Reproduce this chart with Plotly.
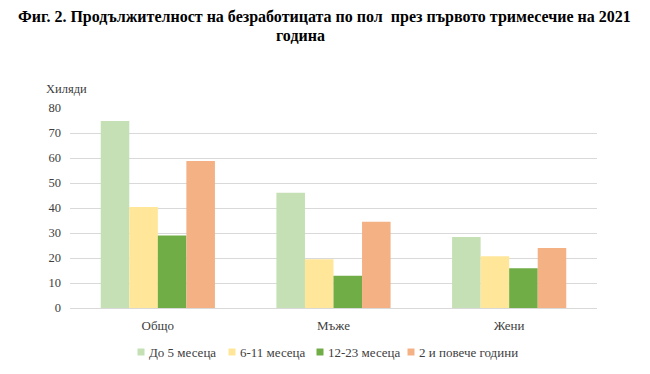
import plotly.graph_objects as go

categories = ["Общо", "Мъже", "Жени"]
series_names = ["До 5 месеца", "6-11 месеца", "12-23 месеца", "2 и повече години"]
do5 = [74.8, 46.1, 28.4]
m6_11 = [40.4, 19.5, 20.7]
m12_23 = [29.0, 12.9, 15.9]
y2plus = [58.8, 34.5, 24.0]
colors = ["#C5E0B4", "#FFE699", "#70AD47", "#F4B183"]
y_ticks = [0, 10, 20, 30, 40, 50, 60, 70, 80]

FONT = "Liberation Serif"
W, H = 650, 374
ML, MR, MT, MB = 70, 53, 108, 66
plot_h = H - MT - MB
plot_w = W - ML - MR

def py(p):
    return (H - MB - p) / plot_h

def px(p):
    return (p - ML) / plot_w

fig = go.Figure()
for name, vals, c in zip(series_names, [do5, m6_11, m12_23, y2plus], colors):
    fig.add_trace(go.Bar(x=categories, y=vals, name=name,
                         marker=dict(color=c, line=dict(width=0))))

fig.update_layout(
    width=W, height=H,
    paper_bgcolor="white", plot_bgcolor="white",
    margin=dict(l=ML, r=MR, t=MT, b=MB, autoexpand=False),
    barmode="group", bargap=0.35, bargroupgap=0,
    font=dict(family=FONT, size=12, color="#404040"),
    showlegend=False,
    xaxis=dict(showgrid=False, showline=True, linecolor="#D9D9D9", linewidth=1,
               ticks="", automargin=False, ticklabelstandoff=5,
               tickfont=dict(family=FONT, size=13, color="#404040")),
    yaxis=dict(range=[0, 80], tickvals=y_ticks, showgrid=True, gridcolor="#D9D9D9",
               gridwidth=1, zeroline=False, showline=False, ticks="", automargin=False,
               ticklabelstandoff=8,
               tickfont=dict(family=FONT, size=12.5, color="#404040")),
)

fig.add_annotation(text="<b>Фиг. 2. Продължителност на безработицата по пол  през първото тримесечие на 2021</b>",
                   xref="paper", yref="paper", x=px(324), y=py(17), xanchor="center", yanchor="middle",
                   showarrow=False, font=dict(family=FONT, size=16, color="black"))
fig.add_annotation(text="<b>година</b>", xref="paper", yref="paper",
                   x=px(300), y=py(36), xanchor="center", yanchor="middle",
                   showarrow=False, font=dict(family=FONT, size=16, color="black"))
fig.add_annotation(text="Хиляди", xref="paper", yref="paper", x=px(44), y=py(89),
                   xanchor="left", yanchor="middle", showarrow=False,
                   font=dict(family=FONT, size=12.5, color="#404040"))

# Legend (custom, to match compact spacing)
legend_x = [141, 232, 320, 411]
legend_y = 352
for name, c, lx in zip(series_names, colors, legend_x):
    fig.add_shape(type="rect", xref="paper", yref="paper",
                  x0=px(lx - 3.5), x1=px(lx + 3.5), y0=py(legend_y + 3.5), y1=py(legend_y - 3.5),
                  fillcolor=c, line=dict(width=0))
    fig.add_annotation(text=name, xref="paper", yref="paper", x=px(lx + 6), y=py(legend_y),
                       xanchor="left", yanchor="middle", showarrow=False,
                       font=dict(family=FONT, size=13, color="#404040"))

fig.write_html("out.html", config={"displayModeBar": False},
               post_script="document.body.style.margin='0';")
